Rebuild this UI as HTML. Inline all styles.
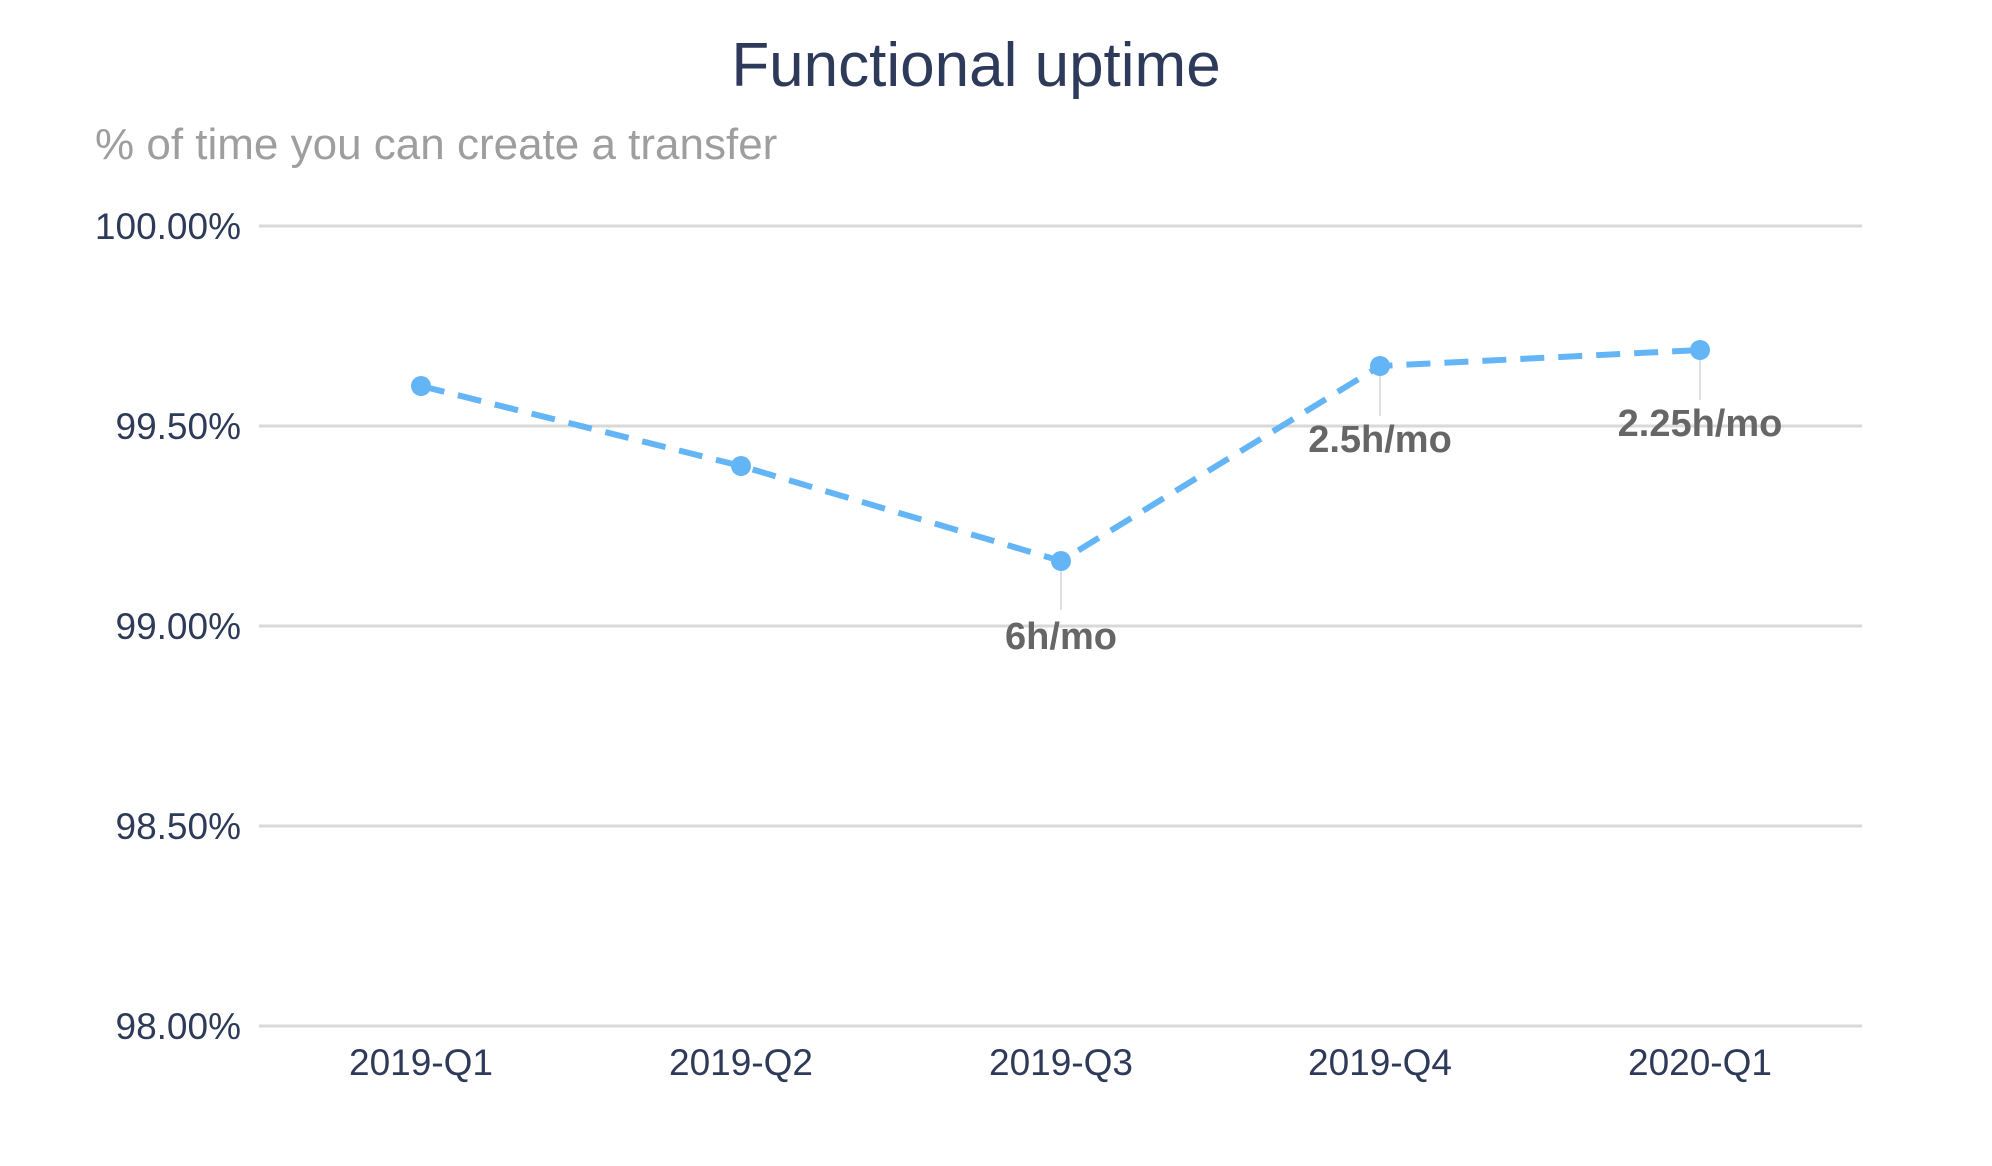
<!DOCTYPE html>
<html><head><meta charset="utf-8"><style>
html,body{margin:0;padding:0;background:#fff;}
svg{display:block;font-family:"Liberation Sans",Arial,sans-serif;}
</style></head><body>
<svg width="1992" height="1166" viewBox="0 0 1992 1166" xmlns="http://www.w3.org/2000/svg">
<rect width="1992" height="1166" fill="#fff"/>
<text x="976" y="86" font-size="62" fill="#2e3a59" text-anchor="middle">Functional uptime</text>
<text x="95" y="159" font-size="44" fill="#9e9e9e">% of time you can create a transfer</text>
<g stroke="#d9d9d9" stroke-width="3">
<line x1="259" y1="226" x2="1862" y2="226"/>
<line x1="259" y1="426" x2="1862" y2="426"/>
<line x1="259" y1="626" x2="1862" y2="626"/>
<line x1="259" y1="826" x2="1862" y2="826"/>
<line x1="259" y1="1026" x2="1862" y2="1026"/>
</g>
<g font-size="37" fill="#2e3a59" text-anchor="end">
<text x="241" y="239">100.00%</text>
<text x="241" y="439">99.50%</text>
<text x="241" y="639">99.00%</text>
<text x="241" y="839">98.50%</text>
<text x="241" y="1039">98.00%</text>
</g>
<g font-size="37" fill="#2e3a59" text-anchor="middle">
<text x="421" y="1075">2019-Q1</text>
<text x="741" y="1075">2019-Q2</text>
<text x="1061" y="1075">2019-Q3</text>
<text x="1380" y="1075">2019-Q4</text>
<text x="1700" y="1075">2020-Q1</text>
</g>
<g stroke="#e0e0e0" stroke-width="2">
<line x1="1061" y1="561" x2="1061" y2="610"/>
<line x1="1380" y1="366" x2="1380" y2="416"/>
<line x1="1700" y1="350" x2="1700" y2="400"/>
</g>
<polyline points="421,386 741,466 1061,561 1380,366 1700,350" fill="none" stroke="#64b5f6" stroke-width="6" stroke-dasharray="24,14"/>
<g fill="#64b5f6">
<circle cx="421" cy="386" r="10"/>
<circle cx="741" cy="466" r="10"/>
<circle cx="1061" cy="561" r="10"/>
<circle cx="1380" cy="366" r="10"/>
<circle cx="1700" cy="350" r="10"/>
</g>
<g font-size="38" font-weight="bold" fill="#666" text-anchor="middle">
<text x="1061" y="649">6h/mo</text>
<text x="1380" y="452">2.5h/mo</text>
<text x="1700" y="436">2.25h/mo</text>
</g>
</svg>
</body></html>
